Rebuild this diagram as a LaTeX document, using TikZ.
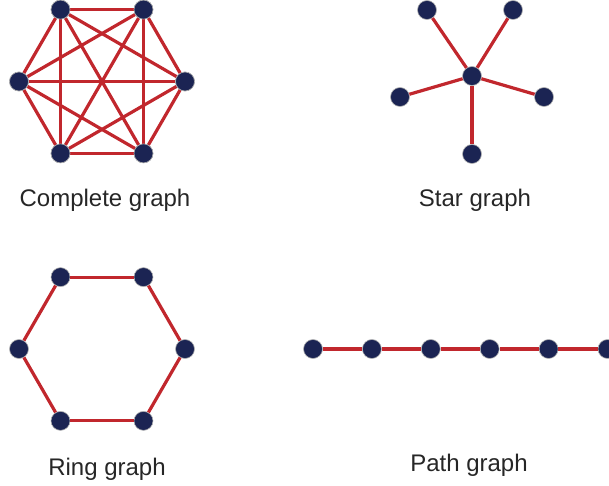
\documentclass[tikz,border=0pt]{standalone}
\usepackage{fontspec}
\setmainfont{Liberation Sans}
\usepackage{tikz}
\usetikzlibrary{positioning,calc}

\definecolor{vnavy}{HTML}{1B2453}
\definecolor{ered}{HTML}{C1272D}

\tikzset{
  vtx/.style={circle,fill=vnavy,draw=gray!60,line width=0.6pt,minimum size=19pt,inner sep=0pt},
  edg/.style={draw=ered,line width=3.2pt},
  lbl/.style={font=\fontsize{24}{28}\selectfont,text=black!85,anchor=base}
}

\begin{document}
\begin{tikzpicture}[x=1pt,y=-1pt]
\useasboundingbox (0,0) rectangle (609,486);
\clip (0,0) rectangle (609,486);
% Complete graph: hexagon, every pair joined
\def\R{83}
\foreach \i/\ang in {1/120,2/60,3/0,4/-60,5/-120,6/180} {
  \node[vtx] (c\i) at ($(102,81.5)+(\ang:\R pt and -\R pt)$) {};
}
\foreach \i in {1,...,5} {
  \pgfmathtruncatemacro{\nxt}{\i+1}
  \foreach \j in {\nxt,...,6} {
    \draw[edg] (c\i) -- (c\j);
  }
}
% put the dots back on top of the crossing edges
\foreach \i in {1,...,6} { \node[vtx] at (c\i) {}; }
\node[lbl] (tc) at (105,207) {Complete graph};
% Star graph: one hub, five leaves
\node[vtx] (s0) at (472,76) {};
\node[vtx] (s1) at (427,10) {};
\node[vtx] (s2) at (513,10) {};
\node[vtx] (s3) at (400,97) {};
\node[vtx] (s4) at (544,97) {};
\node[vtx] (s5) at (472,154) {};
\foreach \i in {1,...,5} { \draw[edg] (s0) -- (s\i); }
\node[lbl] (ts) at (475,207) {Star graph};
% Ring graph: hexagon, neighbours only
\foreach \i/\ang in {1/120,2/60,3/0,4/-60,5/-120,6/180} {
  \node[vtx] (r\i) at ($(102,349)+(\ang:\R pt and -\R pt)$) {};
}
\foreach \i/\j in {1/2,2/3,3/4,4/5,5/6,6/1} { \draw[edg] (r\i) -- (r\j); }
\node[lbl] (tr) at (107,475) {Ring graph};
% Path graph: six nodes in a row, last one runs off the edge
\foreach \i in {0,...,5} {
  \node[vtx] (p\i) at (313+58.9*\i,349) {};
}
\foreach \i/\j in {0/1,1/2,2/3,3/4,4/5} { \draw[edg] (p\i) -- (p\j); }
\node[lbl] (tp) at (469,471) {Path graph};
\end{tikzpicture}
\end{document}
